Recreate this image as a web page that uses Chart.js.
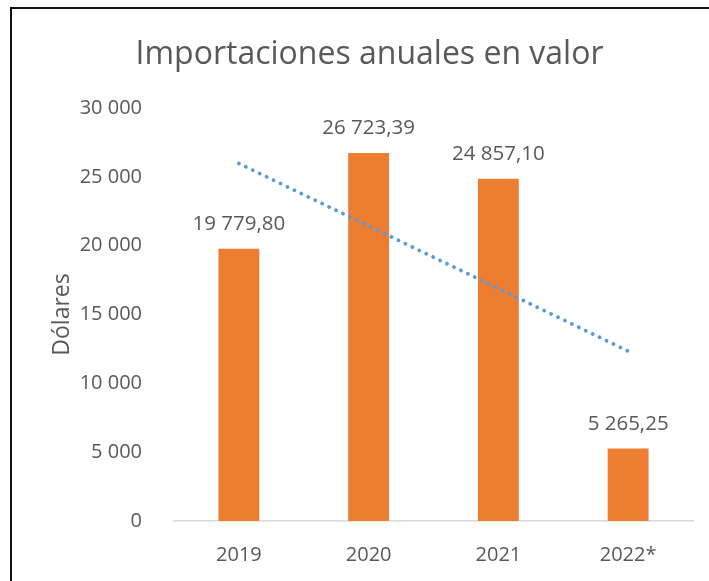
<!DOCTYPE html>
<html>
<head>
<meta charset="utf-8">
<script src="https://cdn.jsdelivr.net/npm/chart.js@4"></script>
<style>
  html, body { margin: 0; padding: 0; background: #fff; }
  #wrap { position: relative; width: 709px; height: 581px; overflow: hidden; }
  #frame { position: absolute; left: 10px; top: 7px; width: 720px; height: 600px;
           border-left: 2px solid #111; border-top: 2px solid #111; pointer-events: none; }
  canvas { position: absolute; left: 0; top: 0; }
</style>
</head>
<body>
<div id="wrap">
  <canvas id="chart" width="709" height="581"></canvas>
  <div id="frame"></div>
</div>
<script>
const years = ['2019', '2020', '2021', '2022*'];
const imports = [19779.80, 26723.39, 24857.10, 5265.25];
const valueLabels = ['19 779,80', '26 723,39', '24 857,10', '5 265,25'];
// linear trend line
const trend = [25970, 21430, 16890, 12340];
const yTicks = [0, 5000, 10000, 15000, 20000, 25000, 30000];

const grey = '#595959';
const fontFamily = '"Open Sans", sans-serif';

Chart.defaults.font.family = fontFamily;
Chart.defaults.color = grey;

const ctx = document.getElementById("chart");

// draws the value above each bar
const barLabels = {
    id: 'barLabels',
    afterDatasetsDraw(chart) {
        const meta = chart.getDatasetMeta(1);
        const c = chart.ctx;
        c.save();
        c.font = '20.5px ' + fontFamily;
        c.fillStyle = grey;
        c.textAlign = 'center';
        c.textBaseline = 'alphabetic';
        meta.data.forEach((bar, i) => {
            c.fillText(valueLabels[i], bar.x, bar.y - 19);
        });
        c.restore();
    }
};

let chart = new Chart(ctx, {
    data: {
        labels: years,
        datasets: [
            {
                type: 'line',
                label: 'Lineal',
                data: trend,
                borderColor: '#5B9BD5',
                borderWidth: 3.8,
                borderDash: [0.1, 7.6],
                borderCapStyle: 'round',
                pointRadius: 0,
                fill: false,
                tension: 0,
                order: 0
            },
            {
                type: 'bar',
                label: 'Importaciones',
                data: imports,
                backgroundColor: '#ED7D31',
                categoryPercentage: 1,
                barPercentage: 0.315,
                order: 1
            }
        ]
    },
    options: {
        responsive: false,
        animation: false,
        layout: { padding: { left: 46, right: 16, top: 0, bottom: 0 } },
        scales: {
            x: {
                offset: true,
                grid: { display: false },
                border: { display: true, color: '#D9D9D9', width: 1.5 },
                ticks: { font: { size: 20 }, padding: 14, color: grey },
                afterFit(scale) { scale.height = 60; }
            },
            y: {
                min: 0,
                max: 30000,
                grid: { display: false },
                border: { display: false },
                afterBuildTicks(scale) { scale.ticks = yTicks.map(v => ({ value: v })); },
                ticks: {
                    font: { size: 20 },
                    padding: 24,
                    color: grey,
                    callback: v => v === 0 ? '0' : String(v).replace(/\B(?=(\d{3})+(?!\d))/g, ' ')
                },
                title: {
                    display: true,
                    text: 'Dólares',
                    font: { size: 23 },
                    color: grey,
                    padding: { top: 3, bottom: 4 }
                },
                afterFit(scale) { scale.width = 128; }
            }
        },
        plugins: {
            legend: { display: false },
            tooltip: { enabled: false },
            title: {
                display: true,
                text: 'Importaciones anuales en valor',
                font: { size: 32, weight: 'normal' },
                color: grey,
                padding: { top: 36, bottom: 33.6 }
            }
        }
    },
    plugins: [barLabels]
});
</script>
</body>
</html>
